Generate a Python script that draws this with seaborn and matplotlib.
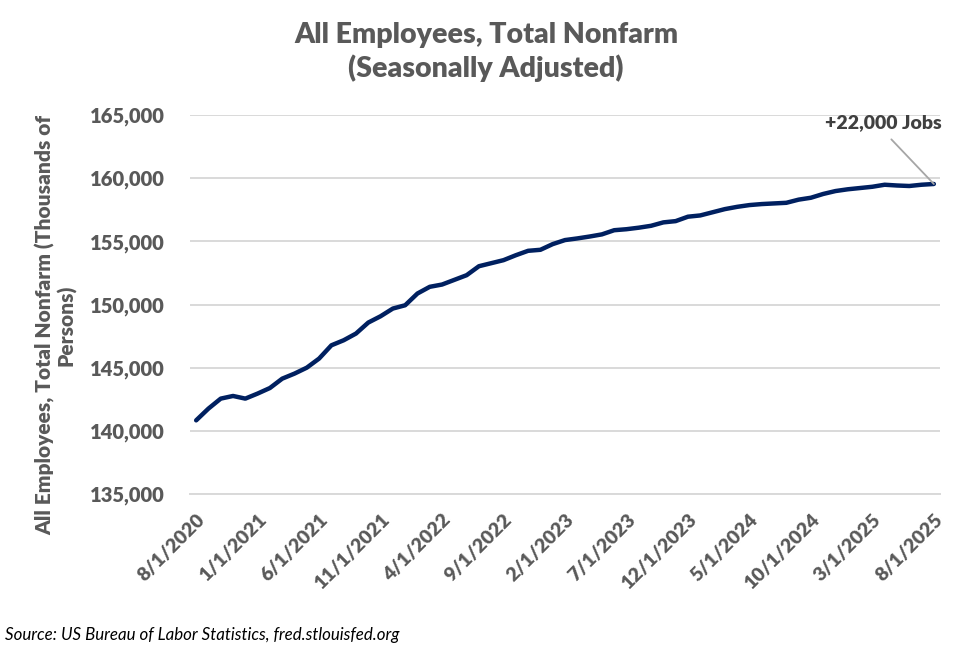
import pandas as pd
import matplotlib.pyplot as plt
import seaborn as sns
import numpy as np

# monthly, 8/1/2020 .. 8/1/2025 (thousands of persons)
months = pd.date_range("2020-08-01", "2025-08-01", freq="MS")
employees = [140830, 141760, 142550, 142760, 142550, 142950, 143390, 144130, 144530, 145000,
             145720, 146770, 147170, 147700, 148570, 149070, 149680, 149940, 150870, 151400,
             151580, 151950, 152320, 153030, 153270, 153510, 153900, 154250, 154330, 154780,
             155100, 155230, 155380, 155550, 155880, 155960, 156080, 156230, 156500, 156600,
             156950, 157050, 157300, 157550, 157730, 157870, 157950, 158000, 158050, 158300,
             158450, 158750, 158980, 159120, 159220, 159320, 159480, 159420, 159380, 159480,
             159540]
tick_labels = ["8/1/2020", "1/1/2021", "6/1/2021", "11/1/2021", "4/1/2022", "9/1/2022",
               "2/1/2023", "7/1/2023", "12/1/2023", "5/1/2024", "10/1/2024", "3/1/2025",
               "8/1/2025"]
y_ticks = [135000, 140000, 145000, 150000, 155000, 160000, 165000]
annot_text = "+22,000 Jobs"

df = pd.DataFrame({"pos": np.arange(len(months)), "month": months, "employees": employees})

sns.set_style("white")
plt.rcParams['font.family'] = ['Lato', 'DejaVu Sans']
gray = "#595959"
grid = "#d9d9d9"
wt = "heavy"

fig = plt.figure(figsize=(9.8, 6.56), dpi=100)
ax = fig.add_axes([190/980, 1-494/656, 750/980, (494-115)/656])
sns.lineplot(data=df, x="pos", y="employees", color="#002060", linewidth=3.2, ax=ax)

ax.set_xlim(-0.5, len(df) - 0.5)
ax.set_ylim(y_ticks[0], y_ticks[-1])
ax.set_yticks(y_ticks)
ax.set_yticklabels([f"{v:,}" for v in y_ticks], fontsize=14.5, fontweight=wt, color=gray)
ax.yaxis.grid(True, color=grid, linewidth=1.4)
ax.tick_params(axis="y", length=0, pad=18)

lab_pos = df["pos"].values[::5]
ax.set_xticks(lab_pos)
ax.set_xticklabels(tick_labels, rotation=45, ha="right", va="top", rotation_mode="anchor",
                   fontsize=14, fontweight=wt, color=gray)
ax.tick_params(axis="x", which="major", length=0, pad=12)
ax.set_xticks(lab_pos - 0.5, minor=True)
ax.tick_params(axis="x", which="minor", length=6, width=1.4, color=grid, direction="out")

for s in ["top", "right", "left"]:
    ax.spines[s].set_visible(False)
ax.spines["bottom"].set_color(grid)
ax.spines["bottom"].set_linewidth(1.4)
ax.set_xlabel("")
ax.set_ylabel("")

ax.annotate(annot_text, xy=(df["pos"].iloc[-1], employees[-1]), xytext=(55.9, 163730),
            ha="center", va="bottom", fontsize=14, fontweight=wt, color="#404040",
            arrowprops=dict(arrowstyle="-", color="#a6a6a6", lw=1.3, relpos=(0.5, 0), shrinkA=5, shrinkB=0))

fig.text(486/980, 1-52/656, "All Employees, Total Nonfarm\n(Seasonally Adjusted)", ha="center", va="center",
         fontsize=20.5, fontweight=wt, color=gray, linespacing=1.25)
fig.text(56/980, 1-325/656, "All Employees, Total Nonfarm (Thousands of\nPersons)", rotation=90,
         ha="center", va="center", multialignment="center", fontsize=15, fontweight=wt, color=gray,
         linespacing=1.1)
fig.text(5/980, 1-635/656, "Source: US Bureau of Labor Statistics, fred.stlouisfed.org", ha="left", va="center",
         fontsize=12.2, style="italic", color="black")

plt.savefig("out.png", dpi=100)
